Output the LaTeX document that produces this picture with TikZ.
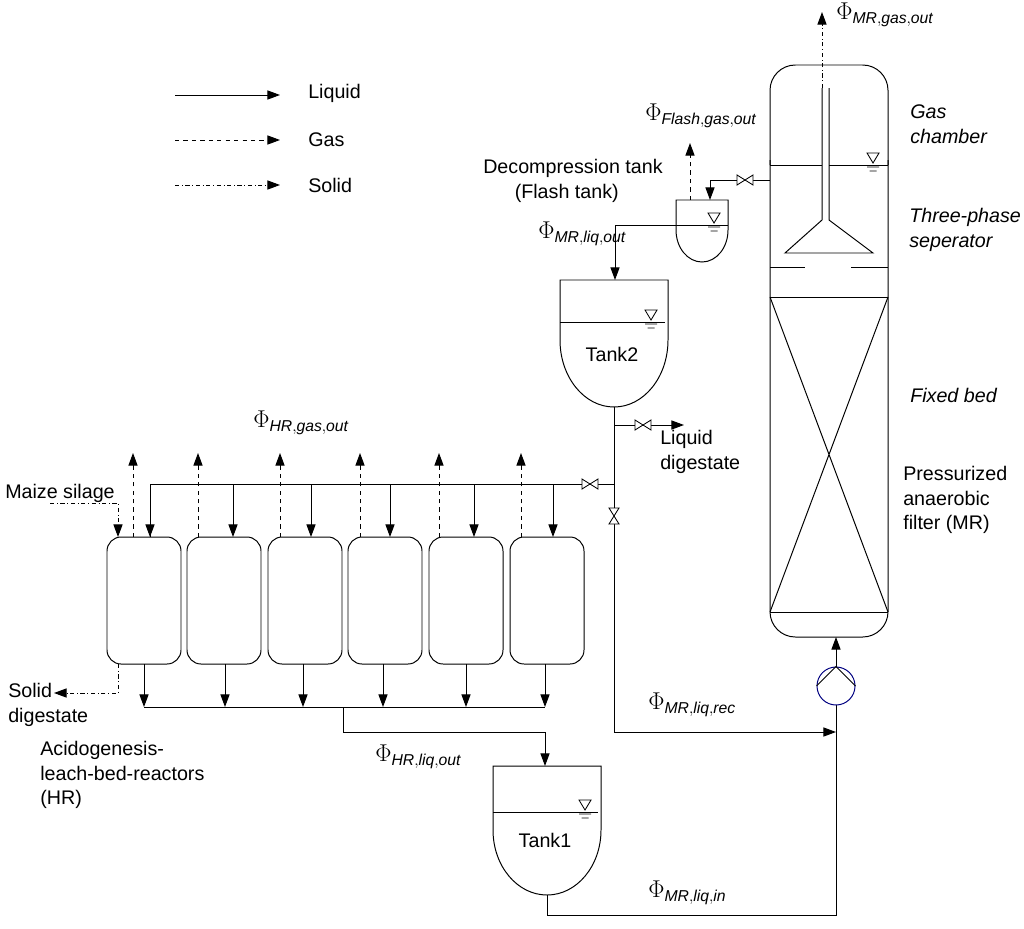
\documentclass[tikz,border=0pt]{standalone}
\usepackage{fontspec}
\setmainfont{Liberation Sans}
\usetikzlibrary{arrows.meta,positioning}

\tikzset{
	>={Triangle[length=9pt,width=6.5pt]},
	liq/.style={draw,->,line width=0.7pt},
	gas/.style={draw,->,dashed,line width=0.7pt},
	sol/.style={draw,->,dash dot,line width=0.7pt},
	vessel/.style={draw,line width=0.7pt},
	txt/.style={font=\fontsize{14}{17.5}\selectfont,align=left,inner sep=0pt},
	itxt/.style={txt,font=\fontsize{14}{17.5}\selectfont\itshape},
	flux/.style={inner sep=0pt,font=\fontsize{16}{18}\selectfont},
	valve/.pic={\draw[line width=0.6pt,fill=white] (-8,-5) -- (8,5) -- (8,-5) -- (-8,5) -- cycle;},
	level/.pic={\draw[line width=0.6pt] (0,0) -- (-6,-10) -- (6,-10) -- cycle (-6,4) -- (6,4) (-3.5,8) -- (3.5,8);}
}

\begin{document}
\begin{tikzpicture}[x=0.025cm,y=-0.025cm]
	\useasboundingbox (0,0) rectangle (1024,928);

	%% legend
	\coordinate (l1a) at (175,95);  \coordinate (l1b) at (280,95);
	\coordinate (l2a) at (175,140); \coordinate (l2b) at (280,140);
	\coordinate (l3a) at (175,185); \coordinate (l3b) at (280,185);
	\path[liq] (l1a) -- (l1b);
	\path[gas] (l2a) -- (l2b);
	\path[sol] (l3a) -- (l3b);
	\node[txt,anchor=west] (tliq) at (308,93) {Liquid};
	\node[txt,anchor=west] (tgas) at (308,140) {Gas};
	\node[txt,anchor=west] (tsol) at (308,185) {Solid};

	%% anaerobic filter (MR)
	\draw[vessel,rounded corners=18] (770,165) -- (770,65) -- (888,65) -- (888,165);
	\draw[vessel,rounded corners=18] (770,160) -- (770,637) -- (888,637) -- (888,160);
	\draw[vessel] (770,165) -- (822,165) (829,165) -- (888,165);
	\draw[vessel] (822,88) -- (822,220) -- (785,253) -- (873,253) -- (829,220) -- (829,88);
	\draw[vessel] (770,267) -- (805,267) (851,267) -- (888,267);
	\draw[vessel] (770,297) -- (888,297) (770,612) -- (888,612);
	\draw[vessel] (770,297) -- (888,612) (888,297) -- (770,612);
	\pic at (873,163) {level};
	\coordinate (mrtop) at (822,88);
	\coordinate (mrgas) at (822,12);
	\path[sol] (mrtop) -- (mrgas);
	\node[flux,anchor=west] (fmrgas) at (836,15) {$\Phi_{\mathit{MR},\mathit{gas},\mathit{out}}$};
	\node[itxt,anchor=west] (tgc) at (910,124) {Gas\\chamber};
	\node[itxt,anchor=west] (tsep) at (909,230) {Three-phase\\seperator};
	\node[itxt,anchor=west] (tbed) at (910,395) {Fixed bed};
	\node[txt,anchor=west] (tmr) at (903,500) {Pressurized\\anaerobic\\filter (MR)};

	%% flash tank
	\draw[vessel] (676,230) -- (676,200) -- (728,200) -- (728,230)
		arc[start angle=0,end angle=180,x radius=26,y radius=32];
	\draw[vessel] (676,225) -- (728,225);
	\pic at (714,223) {level};
	\coordinate (mrout) at (770,180);
	\coordinate (flin) at (710,200);
	\path[liq] (mrout) -- (710,180) -- (flin);
	\pic at (745,180) {valve};
	\coordinate (flgas) at (690,200);
	\path[gas] (flgas) -- (690,143);
	\node[flux,anchor=west] (fflash) at (645,116) {$\Phi_{\mathit{Flash},\mathit{gas},\mathit{out}}$};
	\node[txt,anchor=center] (tflash) at (573,181) {Decompression tank\\\hspace*{1.6em}(Flash tank)};

	%% tank 2
	\draw[vessel] (560,340) -- (560,280) -- (668,280) -- (668,340)
		arc[start angle=0,end angle=180,x radius=54,y radius=67];
	\draw[vessel] (560,322) -- (665,322);
	\pic at (651,320) {level};
	\node[txt] (tank2) at (612,354) {Tank2};
	\coordinate (flout) at (676,225);
	\coordinate (t2in) at (615,280);
	\path[liq] (flout) -- (615,225) -- (t2in);
	\node[flux,anchor=west] (fliqout) at (538,234) {$\Phi_{\mathit{MR},\mathit{liq},\mathit{out}}$};

	%% recirculation
	\coordinate (t2out) at (614,407);
	\coordinate (pmp) at (836,686);
	\draw[vessel] (t2out) -- (614,732);
	\path[liq] (614,732) -- (836,732);
	\path[liq] (614,425) -- (684,425);
	\pic at (643,425) {valve};
	\pic[rotate=90] at (614,516) {valve};
	\node[txt,anchor=west] (tlig) at (660,452) {Liquid\\digestate};
	\node[flux,anchor=west] (frec) at (648,705) {$\Phi_{\mathit{MR},\mathit{liq},\mathit{rec}}$};

	%% leach-bed reactors (HR)
	\draw[vessel] (614,484) -- (150,484) -- (150,537);
	\pic at (590,484) {valve};
	\foreach \i/\xl/\xin/\xg/\xo in {1/107/150/133/144,2/187/233/198/225,3/268/311/280/303,4/348/390/360/383,5/429/474/439/466,6/510/553/521/545}{
		\draw[vessel,rounded corners=10] (\xl,537) rectangle ++(74,127);
		\path[liq] (\xin,484) -- (\xin,537);
		\path[gas] (\xg,537) -- (\xg,453);
		\path[liq] (\xo,664) -- (\xo,707);
	}
	\draw[vessel] (144,707) -- (545,707);
	\node[flux,anchor=west] (fhrgas) at (253,423) {$\Phi_{\mathit{HR},\mathit{gas},\mathit{out}}$};
	\node[txt,anchor=west] (tmaize) at (5,493) {Maize silage};
	\path[sol] (50,503) -- (118,503) -- (118,537);
	\path[sol] (118,664) -- (118,693) -- (54,693);
	\node[txt,anchor=west] (tsolid) at (8,705) {Solid\\digestate};
	\node[txt,anchor=west] (thr) at (40,775) {Acidogenesis-\\leach-bed-reactors\\(HR)};

	%% tank 1
	\draw[vessel] (493,830) -- (493,766) -- (601,766) -- (601,830)
		arc[start angle=0,end angle=180,x radius=54,y radius=65];
	\draw[vessel] (493,812) -- (598,812);
	\pic at (585,810) {level};
	\node[txt] (tank1) at (545,840) {Tank1};
	\coordinate (t1in) at (545,766);
	\path[liq] (343,707) -- (343,732) -- (545,732) -- (t1in);
	\node[flux,anchor=west] (fhrliq) at (375,757) {$\Phi_{\mathit{HR},\mathit{liq},\mathit{out}}$};
	\coordinate (t1out) at (547,895);
	\draw[vessel] (t1out) -- (547,915) -- (836,915) -- (836,705);
	\node[flux,anchor=west] (fin) at (648,893) {$\Phi_{\mathit{MR},\mathit{liq},\mathit{in}}$};

	%% pump
	\node[draw=blue!50!black,circle,minimum size=38*0.025cm,inner sep=0pt,line width=0.7pt] (pump) at (pmp) {};
	\draw[vessel] (pump.west) -- (pump.north) -- (pump.east);
	\path[liq] (pump.north) -- (836,637);
\end{tikzpicture}
\end{document}
